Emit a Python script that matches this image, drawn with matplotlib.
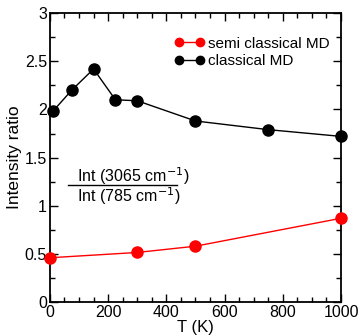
import numpy as np
import matplotlib
matplotlib.use("Agg")
import matplotlib.pyplot as plt
from matplotlib.ticker import MultipleLocator

plt.rcParams["font.family"] = ["Liberation Sans", "DejaVu Sans"]

# data
T_semi = [0, 300, 500, 1000]
ratio_semi = [0.46, 0.515, 0.58, 0.87]
T_class = [10, 75, 150, 225, 300, 500, 750, 1000]
ratio_class = [1.98, 2.20, 2.42, 2.10, 2.09, 1.88, 1.79, 1.72]

fig = plt.figure(figsize=(3.59, 3.36), dpi=100)
ax = fig.add_axes([0.139, 0.101, 0.811, 0.860])

ax.plot(T_semi, ratio_semi, color="#ff0000", lw=1.0, marker="o", ms=8,
        clip_on=False, zorder=3, label="semi classical MD")
ax.plot(T_class, ratio_class, color="black", lw=1.0, marker="o", ms=8,
        clip_on=False, zorder=3, label="classical MD")

ax.set_xlim(0, 1000)
ax.set_ylim(0, 3)
ax.xaxis.set_major_locator(MultipleLocator(200))
ax.xaxis.set_minor_locator(MultipleLocator(50))
ax.yaxis.set_major_locator(MultipleLocator(0.5))
ax.yaxis.set_minor_locator(MultipleLocator(0.25))
ax.set_yticks([0, 0.5, 1, 1.5, 2, 2.5, 3])
ax.set_yticklabels(["0", "0.5", "1", "1.5", "2", "2.5", "3"])
ax.tick_params(which="both", direction="in", top=True, right=True,
               labelsize=11.5, width=1.0)
ax.tick_params(which="major", length=6, pad=2)
ax.tick_params(which="minor", length=3.5)
for s in ax.spines.values():
    s.set_linewidth(1.3)

ax.set_xlabel("T (K)", fontsize=12, labelpad=0)
ax.set_ylabel("Intensity ratio", fontsize=12.5, labelpad=2)

ax.legend(loc="upper left", bbox_to_anchor=(0.39, 0.955), frameon=False,
          fontsize=11, numpoints=2, handlelength=2.0, handletextpad=0.2,
          labelspacing=0.2, borderaxespad=0.3, markerscale=0.75)

# ratio annotation
ax.text(0.093, 0.437, "Int (3065 cm$^{-1}$)", transform=ax.transAxes,
        ha="left", va="center", fontsize=11.5)
ax.plot([0.062, 0.437], [0.405, 0.405], transform=ax.transAxes,
        color="black", lw=1.0)
ax.text(0.093, 0.368, "Int (785 cm$^{-1}$)", transform=ax.transAxes,
        ha="left", va="center", fontsize=11.5)

fig.savefig("out.png", dpi=100)
